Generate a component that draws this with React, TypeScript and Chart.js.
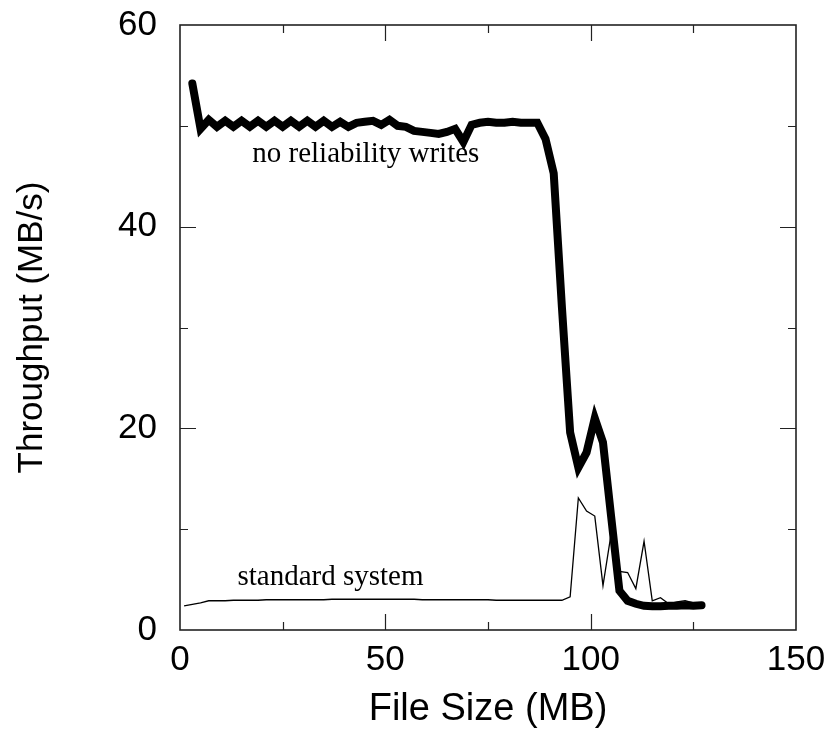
import React, { useEffect, useRef } from "react";
import { Chart, registerables } from "chart.js";

Chart.register(...registerables);

// File size (MB) of each measurement
const fileSizes = [
  1, 3, 5, 7, 9, 11, 13, 15, 17, 19, 21, 23, 25, 27, 29, 31,
  33, 35, 37, 39, 41, 43, 45, 47, 49, 51, 53, 55, 57, 59, 61, 63,
  65, 67, 69, 71, 73, 75, 77, 79, 81, 83, 85, 87, 89, 91, 93, 95,
  97, 99, 101, 103, 105, 107, 109, 111, 113, 115, 117, 119, 121, 123, 125, 127,
];

// Throughput (MB/s), "standard system"
const standardSystem = [
  2.4, 2.55, 2.7, 2.9, 2.9, 2.9, 2.95, 2.95, 2.95, 2.95, 3.0, 3.0, 3.0, 3.0, 3.0, 3.0,
  3.0, 3.0, 3.05, 3.05, 3.05, 3.05, 3.05, 3.05, 3.05, 3.05, 3.05, 3.05, 3.05, 3.0, 3.0, 3.0,
  3.0, 3.0, 3.0, 3.0, 3.0, 3.0, 2.95, 2.95, 2.95, 2.95, 2.95, 2.95, 2.95, 2.95, 2.95, 3.3,
  13.1, 11.8, 11.3, 4.4, 9.6, 5.8, 5.7, 4.1, 8.8, 2.9, 3.2, 2.6, 2.8, 2.9, 2.7, 2.5,
];

// Throughput (MB/s), "no reliability writes"
const noReliabilityWrites = [
  null, 54.2, 49.7, 50.6, 49.9, 50.5, 49.9, 50.5, 49.9, 50.5, 49.9, 50.5, 49.9, 50.5, 49.9, 50.5,
  49.9, 50.5, 49.9, 50.4, 49.9, 50.3, 50.4, 50.5, 50.1, 50.6, 50.0, 49.9, 49.5, 49.4, 49.3, 49.2,
  49.4, 49.7, 48.4, 50.1, 50.3, 50.4, 50.3, 50.3, 50.4, 50.3, 50.3, 50.3, 48.7, 45.3, 32.0, 19.6,
  16.1, 17.6, 21.0, 18.6, 11.2, 3.9, 2.9, 2.6, 2.4, 2.35, 2.35, 2.4, 2.4, 2.45, 2.4, 2.45,
];

const xTickValues = [0, 50, 100, 150];
const yTickValues = [0, 20, 40, 60];
const xMinorTicks = [25, 50, 75, 100, 125];
const yMinorTicks = [10, 20, 30, 40, 50];

const seriesLabels = ["no reliability writes", "standard system"];
// anchor (file size, throughput) of the in-plot labels
const labelAnchors = [
  { x: 17.6, y: 46.4 },
  { x: 14.0, y: 4.5 },
];

const SANS = "'Liberation Sans', Arial, Helvetica, sans-serif";
const SERIF = "'Liberation Serif', 'Times New Roman', serif";

const framePlugin = {
  id: "frameAndLabels",
  afterDatasetsDraw(chart: any) {
    const { ctx, chartArea: a, scales } = chart;
    const xs = scales.x;
    const ys = scales.y;
    ctx.save();
    ctx.strokeStyle = "#222";
    ctx.lineWidth = 1.6;
    ctx.strokeRect(a.left, a.top, a.right - a.left, a.bottom - a.top);
    ctx.beginPath();
    xMinorTicks.forEach((v) => {
      const px = Math.round(xs.getPixelForValue(v)) + 0.5;
      const len = v % 50 === 0 ? 16 : 8;
      ctx.moveTo(px, a.bottom);
      ctx.lineTo(px, a.bottom - len);
      ctx.moveTo(px, a.top);
      ctx.lineTo(px, a.top + len);
    });
    yMinorTicks.forEach((v) => {
      const py = Math.round(ys.getPixelForValue(v)) + 0.5;
      const len = v % 20 === 0 ? 16 : 8;
      ctx.moveTo(a.left, py);
      ctx.lineTo(a.left + len, py);
      ctx.moveTo(a.right, py);
      ctx.lineTo(a.right - len, py);
    });
    ctx.lineWidth = 1.2;
    ctx.stroke();

    ctx.fillStyle = "#000";
    ctx.font = `29px ${SERIF}`;
    ctx.textAlign = "left";
    ctx.textBaseline = "alphabetic";
    seriesLabels.forEach((t, i) => {
      ctx.fillText(
        t,
        xs.getPixelForValue(labelAnchors[i].x),
        ys.getPixelForValue(labelAnchors[i].y)
      );
    });
    ctx.restore();
  },
};

const zeroPadding = (s: any) => {
  s.paddingTop = 0;
  s.paddingBottom = 0;
  s.paddingLeft = 0;
  s.paddingRight = 0;
};

export default function App() {
  const ref = useRef<HTMLCanvasElement | null>(null);

  useEffect(() => {
    if (!ref.current) return;
    const chart = new Chart(ref.current, {
      type: "line",
      data: {
        datasets: [
          {
            label: seriesLabels[0],
            data: fileSizes.map((x, i) => ({ x, y: noReliabilityWrites[i] })) as any,
            borderColor: "#000",
            borderWidth: 8,
            borderCapStyle: "round",
            borderJoinStyle: "miter",
            pointRadius: 0,
            tension: 0,
            fill: false,
          },
          {
            label: seriesLabels[1],
            data: fileSizes.map((x, i) => ({ x, y: standardSystem[i] })),
            borderColor: "#000",
            borderWidth: 1.3,
            pointRadius: 0,
            tension: 0,
            fill: false,
          },
        ],
      },
      options: {
        animation: false,
        responsive: false,
        devicePixelRatio: 1,
        layout: { padding: { top: 25, right: 34, left: 0, bottom: 0 } },
        plugins: {
          legend: { display: false },
          tooltip: { enabled: false },
        },
        scales: {
          x: {
            type: "linear",
            min: 0,
            max: 150,
            afterBuildTicks: (s: any) => {
              s.ticks = xTickValues.map((v) => ({ value: v }));
            },
            afterFit: (s: any) => {
              s.height = 105;
              zeroPadding(s);
            },
            grid: { display: false, drawTicks: false },
            border: { display: false },
            ticks: {
              color: "#000",
              padding: 9,
              maxRotation: 0,
              autoSkip: false,
              font: { family: SANS, size: 35 },
            },
            title: {
              display: true,
              text: "File Size (MB)",
              color: "#000",
              font: { family: SANS, size: 38, lineHeight: 1 },
              padding: { top: 0, bottom: 6 },
            },
          },
          y: {
            type: "linear",
            min: 0,
            max: 60,
            afterBuildTicks: (s: any) => {
              s.ticks = yTickValues.map((v) => ({ value: v }));
            },
            afterFit: (s: any) => {
              s.width = 180;
              zeroPadding(s);
            },
            grid: { display: false, drawTicks: false },
            border: { display: false },
            ticks: {
              color: "#000",
              padding: 23,
              autoSkip: false,
              font: { family: SANS, size: 35 },
            },
            title: {
              display: true,
              text: "Throughput (MB/s)",
              color: "#000",
              font: { family: SANS, size: 35, lineHeight: 1 },
              padding: { top: 15, bottom: 0 },
            },
          },
        },
      },
      plugins: [framePlugin],
    });
    return () => chart.destroy();
  }, []);

  return (
    <div style={{ position: "absolute", left: 0, top: 0, width: 830, height: 735, background: "#fff" }}>
      <canvas ref={ref} width={830} height={735} />
    </div>
  );
}
